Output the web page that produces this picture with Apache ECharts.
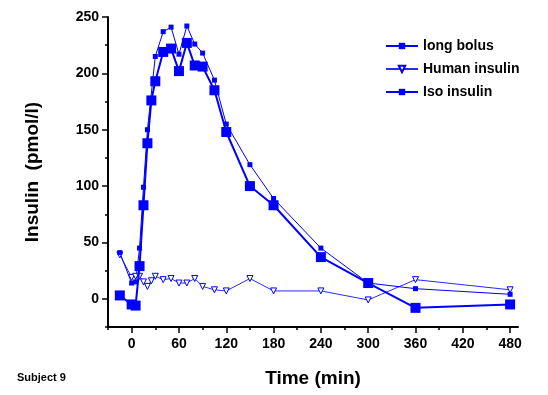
<!DOCTYPE html>
<html>
<head>
<meta charset="utf-8">
<script src="https://cdn.jsdelivr.net/npm/echarts@6/dist/echarts.min.js"></script>
<style>
  html, body { margin: 0; padding: 0; background: #fff; }
  #chart { width: 548px; height: 395px; }
</style>
</head>
<body>
<div id="chart"></div>
<script>
// Sampling times (min) and plasma insulin (pmol/l) per formulation
const longBolusTime = [-15, 0, 5, 10, 15, 20, 25, 30, 40, 50, 60, 70, 80, 90, 105, 120, 150, 180, 240, 300, 360, 480];
const longBolusValues = [3, -5, -6, 29, 83, 138, 176, 193, 219, 222, 202, 227, 207, 206, 185, 148, 100, 83, 37, 14, -8, -5];

const humanTime = [-15, 0, 5, 10, 15, 20, 25, 30, 40, 50, 60, 70, 80, 90, 105, 120, 150, 180, 240, 300, 360, 480];
const humanValues = [39, 19, 20, 20, 15, 11, 16, 20, 17, 18, 14, 14, 18, 11, 8, 7, 18, 7, 7, -1, 17, 8];

const isoTime = [-15, 0, 5, 10, 15, 20, 30, 40, 50, 60, 70, 80, 90, 105, 120, 150, 180, 240, 300, 360, 480];
const isoValues = [41, 14, 15, 45, 99, 150, 215, 237, 241, 217, 242, 226, 218, 194, 155, 119, 89, 45, 14, 9, 4];

const xTickLabels = [0, 60, 120, 180, 240, 300, 360, 420, 480];
const xMinorTicks = [-30, 30, 90, 150, 210, 270, 330, 390, 450];
const yTickLabels = [0, 50, 100, 150, 200, 250];
const yMinorTicks = [-25, 25, 75, 125, 175, 225];

const pair = (xs, ys) => xs.map((x, i) => [x, ys[i]]);
const BLUE = '#0000ff';
const FONT = 'Liberation Sans, Arial, sans-serif';

const chart = echarts.init(document.getElementById('chart'), null, { renderer: 'canvas' });

chart.setOption({
  animation: false,
  backgroundColor: '#fff',
  grid: { left: 108, top: 17, width: 410, height: 310, containLabel: false },
  title: [
    {
      text: 'Subject 9', left: 12, top: 367,
      textStyle: { fontFamily: FONT, fontSize: 11, fontWeight: 'bold', color: '#000' }
    }
  ],
  legend: {
    orient: 'vertical',
    left: 380, top: 34,
    itemWidth: 32, itemHeight: 8, itemGap: 9,
    textStyle: { fontFamily: FONT, fontSize: 14, fontWeight: 'bold', color: '#000' },
    data: ['long bolus', 'Human insulin', 'Iso insulin']
  },
  xAxis: [
    {
      type: 'value', min: -30, max: 490,
      name: 'Time (min)',
      nameLocation: 'middle',
      nameGap: 42,
      nameTextStyle: { fontFamily: FONT, fontSize: 19, fontWeight: 'bold', color: '#000' },
      axisLine: { onZero: false, lineStyle: { color: '#000', width: 2 } },
      axisTick: { show: true, length: 6, customValues: xTickLabels, lineStyle: { color: '#000', width: 1.5 } },
      axisLabel: { customValues: xTickLabels, margin: 10, fontFamily: FONT, fontSize: 14, fontWeight: 'bold', color: '#000' },
      splitLine: { show: false }
    },
    {
      type: 'value', min: -30, max: 490,
      position: 'bottom',
      axisLine: { show: false, onZero: false },
      axisTick: { show: true, length: 3, customValues: xMinorTicks, lineStyle: { color: '#000', width: 1.5 } },
      axisLabel: { show: false },
      splitLine: { show: false }
    }
  ],
  yAxis: [
    {
      type: 'value', min: -25, max: 250,
      name: 'Insulin  (pmol/l)',
      nameLocation: 'middle',
      nameGap: 66,
      nameTextStyle: { fontFamily: FONT, fontSize: 19, fontWeight: 'bold', color: '#000' },
      axisLine: { show: true, onZero: false, lineStyle: { color: '#000', width: 2 } },
      axisTick: { show: true, length: 6, customValues: yTickLabels, lineStyle: { color: '#000', width: 1.5 } },
      axisLabel: { customValues: yTickLabels, margin: 9, fontFamily: FONT, fontSize: 14, fontWeight: 'bold', color: '#000' },
      splitLine: { show: false }
    },
    {
      type: 'value', min: -25, max: 250,
      position: 'left',
      axisLine: { show: false, onZero: false },
      axisTick: { show: true, length: 3, customValues: yMinorTicks, lineStyle: { color: '#000', width: 1.5 } },
      axisLabel: { show: false },
      splitLine: { show: false }
    }
  ],
  series: [
    {
      name: 'long bolus', type: 'line',
      data: pair(longBolusTime, longBolusValues),
      symbol: 'rect', symbolSize: 10,
      lineStyle: { color: BLUE, width: 2 },
      itemStyle: { color: BLUE, borderWidth: 0 },
      z: 4
    },
    {
      name: 'Human insulin', type: 'line',
      data: pair(humanTime, humanValues),
      symbol: 'triangle', symbolRotate: 180, symbolSize: 6,
      lineStyle: { color: '#2a2aff', width: 1 },
      itemStyle: { color: '#fff', borderColor: BLUE, borderWidth: 1 },
      z: 3
    },
    {
      name: 'Iso insulin', type: 'line',
      data: pair(isoTime, isoValues),
      symbol: 'rect', symbolSize: 5,
      lineStyle: { color: BLUE, width: 1 },
      itemStyle: { color: BLUE, borderWidth: 0 },
      z: 3
    }
  ]
});
</script>
</body>
</html>
